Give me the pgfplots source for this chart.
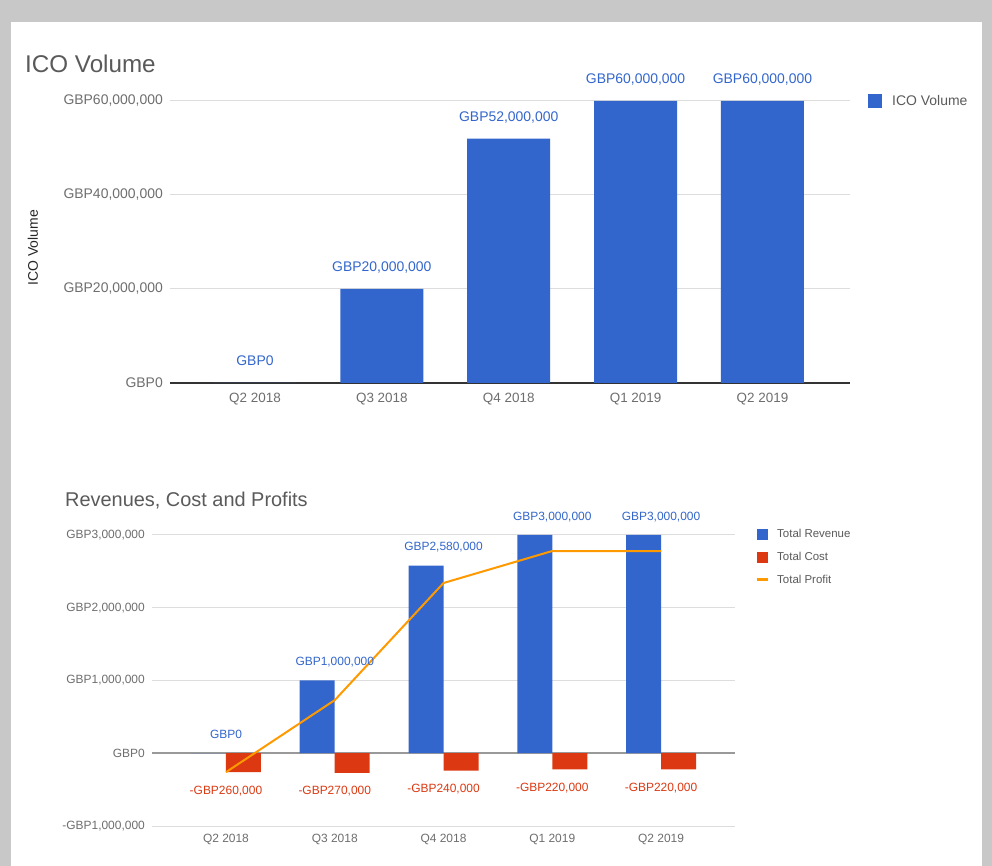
\documentclass[border=0pt]{standalone}
\usepackage{pgfplots}
\pgfplotsset{compat=1.18}
\usepackage{fontspec}
\setmainfont{Liberation Sans}

\definecolor{gblue}{HTML}{3366CC}
\definecolor{gred}{HTML}{DC3912}
\definecolor{gorange}{HTML}{FF9900}
\definecolor{lbl}{HTML}{6E6E6E}
\definecolor{ttl}{HTML}{5A5A5A}
\definecolor{grd}{HTML}{DDDDDD}
\definecolor{frm}{HTML}{C8C8C8}

\pgfplotsset{
  gchart/.style={
    scale only axis,
    anchor=south west,
    axis line style={draw=none},
    major tick length=0pt,
    ymajorgrids,
    major grid style={grd, line width=1bp},
    scaled y ticks=false,
    xtick={0,...,4},
    xticklabels={Q2 2018,Q3 2018,Q4 2018,Q1 2019,Q2 2019},
    yticklabel style={lbl, inner sep=0pt, xshift=-7bp},
    xticklabel style={lbl, inner sep=0pt},
    title style={ttl, inner sep=0pt, anchor=base west, at={(axis description cs:0,1)}},
    legend style={draw=none, fill=none, inner sep=0pt, nodes={inner sep=0pt}},
    legend cell align=left,
    clip=false,
  }
}

\begin{document}
\begin{tikzpicture}
% screenshot frame
\fill[frm] (0bp,0bp) rectangle (992bp,866bp);
\fill[white] (11bp,0bp) rectangle (982bp,844bp);

% ---- ICO volume ----
\begin{axis}[gchart,
  at={(170bp,483bp)}, width=680bp, height=282bp,
  xmin=-0.67, xmax=4.69, ymin=0, ymax=60000000,
  ytick={20000000,40000000,60000000},
  yticklabels={{GBP20,000,000},{GBP40,000,000},{GBP60,000,000}},
  extra y ticks={0}, extra y tick labels={GBP0},
  extra y tick style={major grid style={draw=black!80, line width=1.5bp}},
  yticklabel style={font=\fontsize{14}{16}\selectfont},
  xticklabel style={font=\fontsize{13.5}{16}\selectfont, yshift=-10bp},
  title={ICO Volume},
  title style={font=\fontsize{24.3}{28}\selectfont, xshift=-145bp, yshift=23bp},
  ylabel={ICO Volume},
  ylabel style={at={(axis description cs:-0.2015,0.48)}, anchor=center,
    font=\fontsize{14}{16}\selectfont, color=black!85},
  legend style={at={(axis description cs:1,1)}, anchor=west, xshift=18bp,
    font=\fontsize{14}{16}\selectfont, text=ttl,
    /tikz/every odd column/.append style={column sep=10bp}},
]
\addplot[ybar, bar width=83bp, bar shift=0pt, fill=gblue, draw=none,
  nodes near coords, point meta=explicit symbolic,
  nodes near coords style={gblue, font=\fontsize{14}{16}\selectfont, anchor=base, inner sep=0pt, yshift=17.5bp},
  legend image code/.code={\fill[gblue] (0bp,-7bp) rectangle (14bp,7bp);}]
  coordinates {
    (0,0)        [GBP0]
    (1,20000000) [GBP20,000,000]
    (2,52000000) [GBP52,000,000]
    (3,60000000) [GBP60,000,000]
    (4,60000000) [GBP60,000,000]
  };
\addlegendentry{ICO Volume}
\end{axis}

% ---- revenues, cost, profit ----
\begin{axis}[gchart,
  at={(152bp,40bp)}, width=583bp, height=291bp,
  xmin=-0.68, xmax=4.68, ymin=-1000000, ymax=3000000,
  ytick={-1000000,1000000,2000000,3000000},
  yticklabels={{-GBP1,000,000},{GBP1,000,000},{GBP2,000,000},{GBP3,000,000}},
  extra y ticks={0}, extra y tick labels={GBP0},
  extra y tick style={major grid style={draw=black!40, line width=2bp}},
  yticklabel style={font=\fontsize{12}{14}\selectfont},
  xticklabel style={font=\fontsize{12}{14}\selectfont, yshift=-7.5bp},
  title={Revenues, Cost and Profits},
  title style={font=\fontsize{20}{24}\selectfont, xshift=-87bp, yshift=23bp},
  legend style={at={(axis description cs:1,1)}, anchor=north west, xshift=20bp, yshift=6.5bp,
    font=\fontsize{11.5}{14}\selectfont, text=ttl, row sep=12bp,
    /tikz/every odd column/.append style={column sep=8bp}},
]
\addplot[ybar, bar width=35bp, bar shift=-17.5bp, fill=gblue, draw=none,
  nodes near coords, point meta=explicit symbolic,
  nodes near coords style={gblue, font=\fontsize{12}{14}\selectfont, anchor=base, inner sep=0pt, yshift=14.7bp},
  legend image code/.code={\fill[gblue] (0bp,-5.5bp) rectangle (11bp,5.5bp);}]
  coordinates {
    (0,0)       [GBP0]
    (1,1000000) [GBP1,000,000]
    (2,2580000) [GBP2,580,000]
    (3,3000000) [GBP3,000,000]
    (4,3000000) [GBP3,000,000]
  };
\addlegendentry{Total Revenue}
\addplot[ybar, bar width=35bp, bar shift=17.5bp, fill=gred, draw=none,
  nodes near coords, point meta=explicit symbolic,
  nodes near coords style={gred, font=\fontsize{12}{14}\selectfont, anchor=base, inner sep=0pt, yshift=-22bp},
  legend image code/.code={\fill[gred] (0bp,-5.5bp) rectangle (11bp,5.5bp);}]
  coordinates {
    (0,-260000) [-GBP260,000]
    (1,-270000) [-GBP270,000]
    (2,-240000) [-GBP240,000]
    (3,-220000) [-GBP220,000]
    (4,-220000) [-GBP220,000]
  };
\addlegendentry{Total Cost}
\addplot[gorange, line width=2bp, mark=none,
  legend image code/.code={\draw[gorange, line width=3bp] (0bp,0bp) -- (11bp,0bp);}]
  coordinates {
    (0,-260000)
    (1,730000)
    (2,2340000)
    (3,2780000)
    (4,2780000)
  };
\addlegendentry{Total Profit}
\end{axis}
\end{tikzpicture}
\end{document}
